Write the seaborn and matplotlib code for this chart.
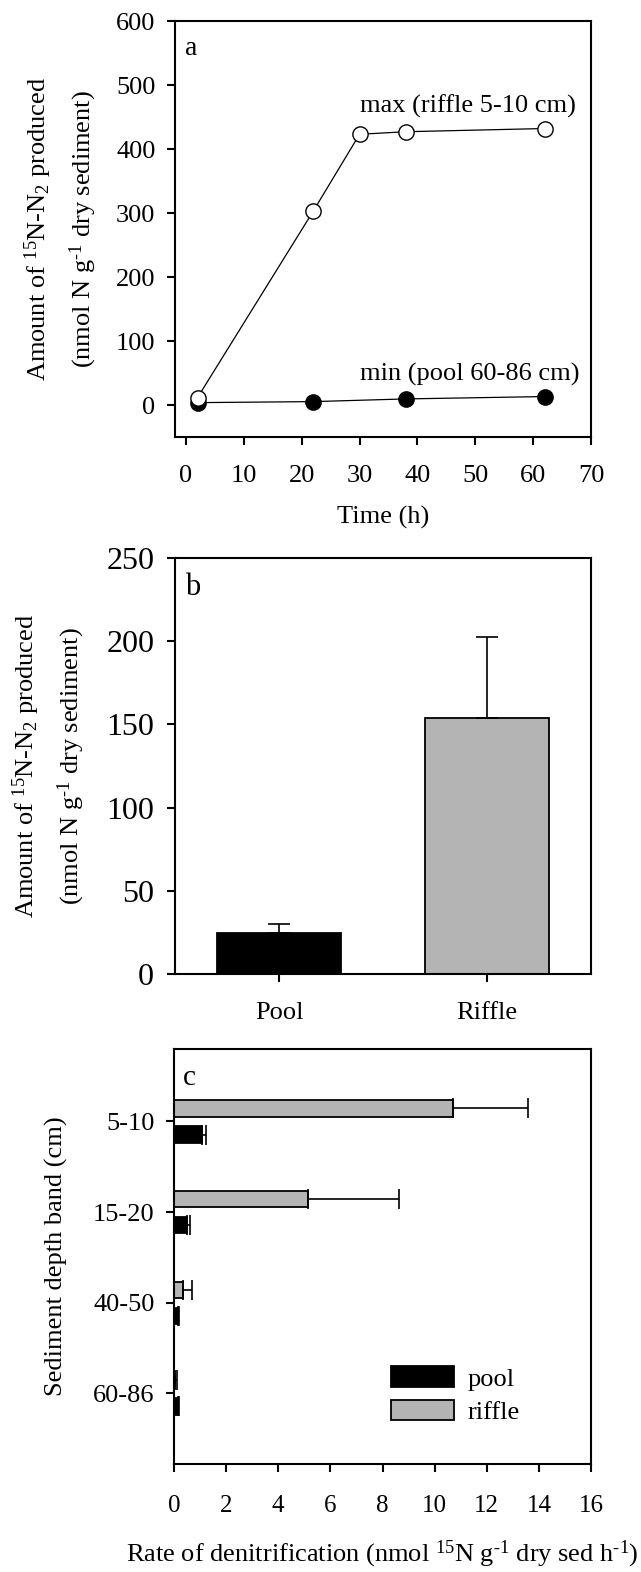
import numpy as np
import pandas as pd
import matplotlib
matplotlib.use("Agg")
import matplotlib.pyplot as plt
import seaborn as sns
from matplotlib.patches import Patch

# ---------------- data ----------------
# panel a
time_max = [2, 22, 30, 38, 62]
n2_max = [11.6, 303, 423, 427, 432]
time_min = [2, 22, 38, 62]
n2_min = [3.7, 5.3, 9.5, 13.2]

# panel b
sites_b = ["Pool", "Riffle"]
amount_b = [24.8, 154.0]
err_b = [5.1, 48.7]

# panel c
depths = ["5-10", "15-20", "40-50", "60-86"]
rate_pool = [1.06, 0.49, 0.17, 0.17]
err_pool = [0.16, 0.12, 0.03, 0.02]
rate_riffle = [10.7, 5.14, 0.33, 0.02]
err_riffle = [2.9, 3.48, 0.35, 0.08]

# ---------------- style ----------------
sns.set_style("ticks")
plt.rcParams["font.family"] = ["Liberation Serif", "DejaVu Serif"]
plt.rcParams["mathtext.fontset"] = "custom"
plt.rcParams["mathtext.rm"] = "Liberation Serif"
plt.rcParams["mathtext.it"] = "Liberation Serif:italic"
plt.rcParams["axes.linewidth"] = 1.5
plt.rcParams["xtick.major.width"] = 1.5
plt.rcParams["ytick.major.width"] = 1.5
plt.rcParams["xtick.major.size"] = 6
plt.rcParams["ytick.major.size"] = 6
plt.rcParams["xtick.direction"] = "out"
plt.rcParams["ytick.direction"] = "out"
plt.rcParams["axes.edgecolor"] = "black"
plt.rcParams["xtick.color"] = "black"
plt.rcParams["ytick.color"] = "black"
plt.rcParams["text.color"] = "black"
plt.rcParams["axes.labelcolor"] = "black"

W, H = 641, 1572
fig = plt.figure(figsize=(W / 100, H / 100), dpi=100)


def axrect(l, t, r, b):
    return [l / W, 1 - b / H, (r - l) / W, (b - t) / H]


FS = 19
ylab = ("Amount of $^{15}$N-N$_{2}$ produced\n"
        "(nmol N g$^{\\text{-}1}$ dry sediment)")

# ---------------- panel a ----------------
ax1 = fig.add_axes(axrect(175, 21, 591, 437))
df_max = pd.DataFrame({"t": time_max, "v": n2_max})
df_min = pd.DataFrame({"t": time_min, "v": n2_min})
sns.lineplot(data=df_min, x="t", y="v", ax=ax1, color="black", lw=0.9,
             marker="o", markersize=11, markerfacecolor="black",
             markeredgecolor="black", markeredgewidth=1.0)
sns.lineplot(data=df_max, x="t", y="v", ax=ax1, color="black", lw=0.9,
             marker="o", markersize=11, markerfacecolor="white",
             markeredgecolor="black", markeredgewidth=1.0)
ax1.set_xlim(-1.9, 70)
ax1.set_ylim(-50, 600)
ax1.set_xticks(range(0, 71, 10))
ax1.set_yticks(range(0, 601, 100))
ax1.tick_params(axis="x", labelsize=FS, pad=14)
ax1.tick_params(axis="y", labelsize=FS, pad=8)
ax1.set_xlabel("Time (h)", fontsize=FS, labelpad=14)
ax1.set_ylabel(ylab, fontsize=FS, labelpad=12, linespacing=1.6)
ax1.text(0.024, 0.918, "a", transform=ax1.transAxes, fontsize=FS + 1,
         ha="left", va="baseline")
ax1.text(30.1, 466, "max (riffle 5-10 cm)", fontsize=FS, ha="left", va="center")
ax1.text(30.1, 48.5, "min (pool 60-86 cm)", fontsize=FS, ha="left", va="center")

# ---------------- panel b ----------------
ax2 = fig.add_axes(axrect(175, 558, 591, 974))
df_b = pd.DataFrame({"site": sites_b, "amount": amount_b})
sns.barplot(data=df_b, x="site", y="amount", hue="site", order=sites_b,
            palette={"Pool": "black", "Riffle": "#b4b4b4"}, width=0.6,
            edgecolor="black", linewidth=1.3, errorbar=None, legend=False, ax=ax2)
for patch, e, v in zip(ax2.patches, err_b, amount_b):
    xc = patch.get_x() + patch.get_width() / 2
    ax2.errorbar([xc], [v], yerr=[[0], [e]], fmt="none", ecolor="black",
                 elinewidth=1.2, capsize=8, capthick=1.2)
ax2.set_xlim(-0.5, 1.5)
ax2.set_ylim(0, 250)
ax2.set_yticks(range(0, 251, 50))
ax2.tick_params(axis="x", labelsize=FS, pad=14)
ax2.tick_params(axis="y", labelsize=23, pad=9)
ax2.set_xlabel("")
ax2.set_ylabel(ylab, fontsize=FS, labelpad=14, linespacing=1.6)
ax2.text(0.024, 0.911, "b", transform=ax2.transAxes, fontsize=FS + 3,
         ha="left", va="baseline")

# ---------------- panel c ----------------
ax3 = fig.add_axes(axrect(174, 1049, 591, 1464))
df_c = pd.DataFrame({
    "depth": depths * 2,
    "site": ["riffle"] * 4 + ["pool"] * 4,
    "rate": rate_riffle + rate_pool,
})
sns.barplot(data=df_c, y="depth", x="rate", hue="site", order=depths,
            hue_order=["riffle", "pool"], orient="h",
            palette={"pool": "black", "riffle": "#b4b4b4"},
            width=0.576, gap=0.375, edgecolor="black", linewidth=1.3,
            errorbar=None, legend=False, ax=ax3)
for cont, vals, errs in zip(ax3.containers, [rate_riffle, rate_pool],
                            [err_riffle, err_pool]):
    for patch, v, e in zip(cont, vals, errs):
        yc = patch.get_y() + patch.get_height() / 2
        ax3.errorbar([v], [yc], xerr=[[0], [e]], fmt="none", ecolor="black",
                     elinewidth=1.2, capsize=7.5, capthick=1.2)
ax3.set_xlim(0, 16)
ax3.set_ylim(3.78, -0.8)
ax3.set_xticks(range(0, 17, 2))
ax3.tick_params(axis="x", labelsize=18, pad=16)
ax3.tick_params(axis="y", labelsize=FS, pad=8)
ax3.set_ylabel("Sediment depth band (cm)", fontsize=FS, labelpad=18)
ax3.set_xlabel("Rate of denitrification (nmol $^{15}$N g$^{\\text{-}1}$ dry sed h$^{\\text{-}1}$)",
               fontsize=FS, labelpad=16)
ax3.text(0.022, 0.913, "c", transform=ax3.transAxes, fontsize=FS + 2,
         ha="left", va="baseline")
handles = [Patch(facecolor="black", edgecolor="black", lw=1.3, label="pool"),
           Patch(facecolor="#b4b4b4", edgecolor="black", lw=1.3, label="riffle")]
ax3.legend(handles=handles, loc="upper left", bbox_to_anchor=(0.52, 0.235),
           frameon=False, fontsize=FS, handlelength=2.4, handleheight=0.8,
           handletextpad=0.5, labelspacing=0.35, borderpad=0, borderaxespad=0)

fig.savefig("out.png", dpi=100)
